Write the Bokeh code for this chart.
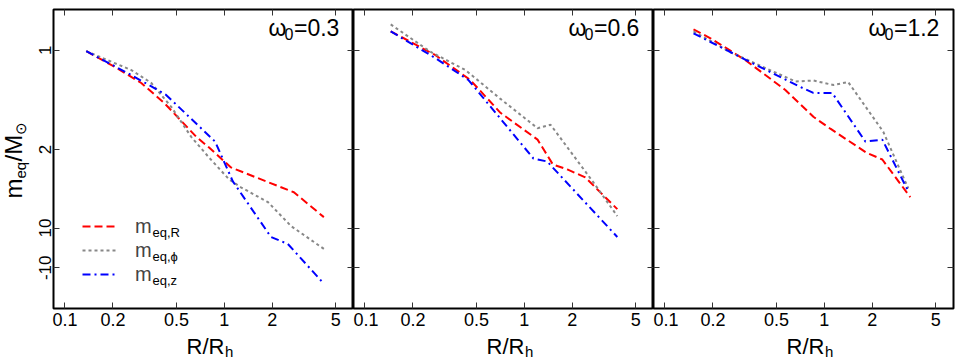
import math
from bokeh.plotting import figure
from bokeh.layouts import row, column
from bokeh.models import (Range1d, FixedTicker, LogAxis, LinearAxis, Label, Legend,
                          LegendItem, CustomJSTickFormatter)
from bokeh.embed import file_html
from bokeh.resources import INLINE

# ---------------- data ----------------
x_ticks = [0.1, 0.2, 0.5, 1, 2, 5]
x_tick_labels = ["0.1", "0.2", "0.5", "1", "2", "5"]
y_ticks = [0.0, -1.0, -1.79, -2.19]
y_tick_labels = ["1", "2", "10", "-10"]
omega0 = ["0.3", "0.6", "1.2"]
series_names = ["eq,R", "eq,\u03d5", "eq,z"]

# panel 1 (omega0 = 0.3)
p1_R_x = [0.136, 0.204, 0.301, 0.419, 0.665, 0.802, 1.10, 1.58, 2.73, 4.21]
p1_R_y = [-0.01, -0.165, -0.33, -0.53, -0.87, -0.98, -1.18, -1.28, -1.43, -1.68]
p1_phi_x = [0.136, 0.261, 0.348, 0.464, 0.618, 0.791, 1.07, 1.27, 1.88, 2.62, 4.21]
p1_phi_y = [-0.01, -0.20, -0.33, -0.57, -0.87, -1.07, -1.30, -1.38, -1.53, -1.77, -2.00]
p1_z_x = [0.136, 0.261, 0.431, 0.875, 1.13, 1.96, 2.50, 4.21]
p1_z_y = [-0.01, -0.25, -0.45, -0.92, -1.32, -1.88, -1.95, -2.35]

# panel 2 (omega0 = 0.6)
p2_R_x = [0.145, 0.277, 0.458, 0.708, 1.21, 1.51, 1.86, 2.41, 3.83]
p2_R_y = [0.19, -0.05, -0.30, -0.63, -0.90, -1.15, -1.20, -1.28, -1.60]
p2_phi_x = [0.145, 0.257, 0.427, 0.708, 1.21, 1.46, 2.71, 3.83]
p2_phi_y = [0.26, -0.015, -0.20, -0.49, -0.785, -0.75, -1.33, -1.67]
p2_z_x = [0.145, 0.277, 0.446, 1.14, 1.39, 3.83]
p2_z_y = [0.19, -0.08, -0.30, -1.09, -1.12, -1.88]

# panel 3 (omega0 = 1.2)
p3_R_x = [0.151, 0.193, 0.320, 0.569, 0.853, 1.09, 1.83, 2.31, 3.46]
p3_R_y = [0.21, 0.12, -0.10, -0.40, -0.67, -0.79, -1.03, -1.10, -1.48]
p3_phi_x = [0.151, 0.257, 0.658, 0.853, 1.14, 1.41, 2.34, 3.36]
p3_phi_y = [0.19, -0.02, -0.315, -0.305, -0.35, -0.32, -0.82, -1.39]
p3_z_x = [0.151, 0.324, 0.707, 0.853, 1.12, 1.81, 2.31, 3.36]
p3_z_y = [0.17, -0.10, -0.37, -0.43, -0.43, -0.92, -0.90, -1.42]

panels = [
    [(p1_R_x, p1_R_y), (p1_phi_x, p1_phi_y), (p1_z_x, p1_z_y)],
    [(p2_R_x, p2_R_y), (p2_phi_x, p2_phi_y), (p2_z_x, p2_z_y)],
    [(p3_R_x, p3_R_y), (p3_phi_x, p3_phi_y), (p3_z_x, p3_z_y)],
]

# ---------------- styles ----------------
FONT = "Liberation Sans"
colors = ["#ff0000", "#888888", "#0000ff"]
dashes = ["8 4", "3 3", "8 4 2 4"]
FRAME_W = 300
PANEL_H = 332
XLABEL_H = 28
LEFT_LABEL_W = 30
P1_LEFT = 23
MID = 0.36   # distance (in em) from the text's middle to its baseline

label_fmt_code = """
let best = 0; let bd = 1e9;
for (let i = 0; i < tv.length; i++) {
  const d = Math.abs(tv[i] - tick);
  if (d < bd) { bd = d; best = i; }
}
return tl[best];
"""


def style_axis(ax, show_labels, size="18px"):
    ax.axis_line_color = None
    ax.axis_label = None
    ax.major_tick_in = 6
    ax.major_tick_out = 0
    ax.minor_tick_in = 0
    ax.minor_tick_out = 0
    ax.minor_tick_line_color = None
    ax.major_tick_line_color = "#333333"
    ax.major_tick_line_width = 1
    ax.major_label_text_font = FONT
    ax.major_label_text_color = "black"
    if show_labels:
        ax.major_label_text_font_size = size
    else:
        ax.major_label_text_font_size = "0px"
        ax.major_label_standoff = 0
        ax.formatter = CustomJSTickFormatter(code="return ''")


def txt(p, x, y, text, size, align="left", angle=0.0):
    """Text whose baseline passes through (x, y) (frame pixels, y up)."""
    px = int(size.replace("px", ""))
    off = MID * px
    if angle == 0.0:
        ax_, ay_ = x, y + off
    else:  # rotated 90 deg counter-clockwise: text "up" points to -x
        ax_, ay_ = x - off, y
    p.add_layout(Label(x=ax_, y=ay_, x_units="screen", y_units="screen", text=text,
                       text_font=FONT, text_font_size=size, text_align=align,
                       text_baseline="middle", text_color="black", angle=angle))


def blank_fig(w, h):
    f = figure(width=w, height=h, x_range=Range1d(0, 1), y_range=Range1d(0, 1),
               x_axis_location=None, y_axis_location=None, output_backend="svg",
               toolbar_location=None, min_border=0, title=None)
    f.xgrid.visible = False
    f.ygrid.visible = False
    f.outline_line_color = None
    f.background_fill_color = "white"
    f.border_fill_color = "white"
    return f


figs = []
for i in range(3):
    p = figure(x_axis_type="log", x_range=Range1d(0.0847, 6.46), y_range=Range1d(-2.60, 0.41),
               frame_width=FRAME_W, height=PANEL_H, output_backend="svg", title=None,
               toolbar_location=None, min_border_left=P1_LEFT if i == 0 else 0,
               min_border_right=2 if i == 2 else 0, min_border_top=9, min_border_bottom=24)
    p.xgrid.visible = False
    p.ygrid.visible = False
    p.outline_line_color = "black"
    p.outline_line_width = 2
    p.background_fill_color = "white"
    p.border_fill_color = "white"

    bx = p.xaxis[0]
    bx.ticker = FixedTicker(ticks=x_ticks, minor_ticks=[])
    bx.formatter = CustomJSTickFormatter(args=dict(tv=x_ticks, tl=x_tick_labels),
                                         code=label_fmt_code)
    style_axis(bx, True, "18px")
    bx.major_label_standoff = 4

    ly = p.yaxis[0]
    ly.ticker = FixedTicker(ticks=y_ticks, minor_ticks=[])
    if i == 0:
        ly.formatter = CustomJSTickFormatter(args=dict(tv=y_ticks, tl=y_tick_labels),
                                             code=label_fmt_code)
        style_axis(ly, True, "17px")
        ly.major_label_orientation = "vertical"
        ly.major_label_standoff = 2
    else:
        style_axis(ly, False)

    top = LogAxis(ticker=FixedTicker(ticks=x_ticks, minor_ticks=[]))
    style_axis(top, False)
    p.add_layout(top, "above")
    right = LinearAxis(ticker=FixedTicker(ticks=y_ticks, minor_ticks=[]))
    style_axis(right, False)
    p.add_layout(right, "right")

    renderers = []
    for k, (xs, ys) in enumerate(panels[i]):
        r = p.line(xs, ys, line_color=colors[k], line_dash=dashes[k], line_width=2)
        renderers.append(r)

    # panel title  omega_0 = value  (chained left to right)
    x0 = 215
    txt(p, x0, 272, "\u03c9", "23px")
    txt(p, x0 + 16, 268.5, "0", "16px")
    txt(p, x0 + 16 + 9.5, 272, "=" + omega0[i], "23px")

    if i == 0:
        legend = Legend(items=[LegendItem(label="m", renderers=[r]) for r in renderers],
                        location=(29, 22), glyph_width=35, glyph_height=24, label_height=24,
                        spacing=0, padding=0, margin=0, label_standoff=18,
                        border_line_color=None, background_fill_alpha=0,
                        label_text_font=FONT, label_text_font_size="20px")
        p.add_layout(legend)
        for k, nm in enumerate(series_names):
            yc = 82 - 24 * k
            txt(p, 99, yc - 11, nm, "13px")

    figs.append(p)

# y axis label  m_eq / M_sun  (rotated), in a narrow strip left of panel 1
yfig = blank_fig(LEFT_LABEL_W, PANEL_H + XLABEL_H)
a = math.pi / 2
txt(yfig, 22, 162, "m", "24px", angle=a)
txt(yfig, 25.5, 182, "eq", "15px", angle=a)
txt(yfig, 22, 199, "/M", "24px", angle=a)
txt(yfig, 25, 226, "\u2299", "15px", angle=a)

# x axis labels  R/R_h  under each panel
xfig = blank_fig(P1_LEFT + 3 * FRAME_W, XLABEL_H)
for i in range(3):
    xa = P1_LEFT + 171 + FRAME_W * i
    txt(xfig, xa, 6.5, "R/R", "22px", align="right")
    txt(xfig, xa + 0.5, 3.5, "h", "15px", align="left")

layout = row(yfig, column(row(*figs, spacing=0), xfig, spacing=0), spacing=0)
open("out.html", "w").write(file_html(layout, INLINE))
